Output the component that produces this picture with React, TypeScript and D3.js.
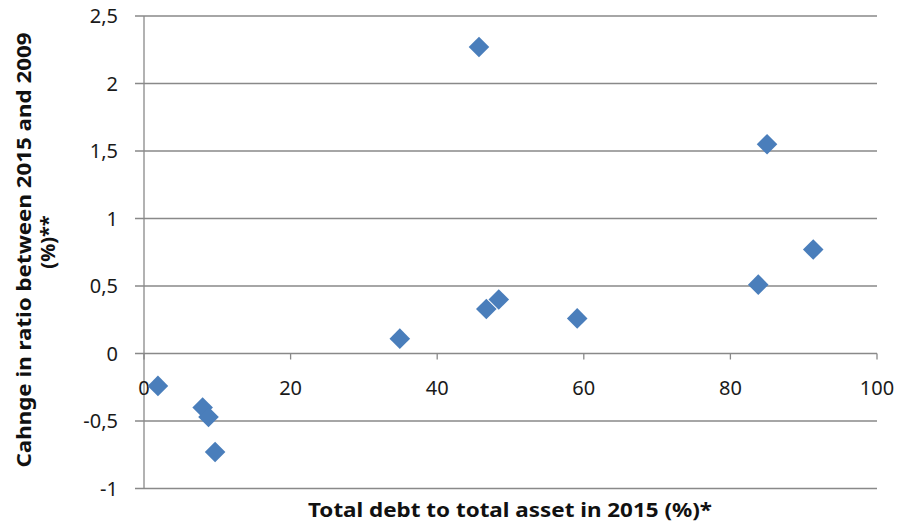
import React from "react";
import * as d3 from "d3";

const debtRatio2015 = [45.7, 85.0, 91.3, 83.8, 48.4, 46.7, 59.1, 34.9, 1.9, 8.0, 8.8, 9.7];
const ratioChange = [2.27, 1.55, 0.77, 0.51, 0.40, 0.33, 0.26, 0.11, -0.24, -0.40, -0.47, -0.73];
const xTicks = [0, 20, 40, 60, 80, 100];
const yTicks = [-1, -0.5, 0, 0.5, 1, 1.5, 2, 2.5];
const xTitle = "Total debt to total asset in 2015 (%)*";
const yTitleLine1 = "Cahnge in ratio between 2015 and 2009";
const yTitleLine2 = "(%)**";

const W = 900;
const H = 529;
const left = 144;
const right = 877;
const top = 16;
const bottom = 488.5;

export default function App() {
  const x = d3.scaleLinear().domain([0, 100]).range([left, right]);
  const y = d3.scaleLinear().domain([-1, 2.5]).range([bottom, top]);
  const fmt = (v: number) => String(v).replace(".", ",");
  const grid = "#898989";
  const font = "'Noto Sans', sans-serif";
  const diamond = d3.symbol().type(d3.symbolDiamond2).size(270)();
  const points = debtRatio2015.map((d, i) => ({ x: d, y: ratioChange[i] }));

  return (
    <svg width={W} height={H} style={{ position: "absolute", left: 0, top: 0, background: "#fff" }}>
      {yTicks.map((t) => (
        <g key={"y" + t}>
          <line x1={left - 9} x2={right} y1={y(t)} y2={y(t)} stroke={grid} strokeWidth={1.3} />
          <text x={118} y={y(t)} dy="0.36em" textAnchor="end" fontFamily={font} fontSize={20} fill="#1a1a1a">
            {fmt(t)}
          </text>
        </g>
      ))}
      <line x1={left} x2={left} y1={top} y2={bottom} stroke={grid} strokeWidth={1.3} />
      {xTicks.map((t) => (
        <g key={"x" + t}>
          <line x1={x(t)} x2={x(t)} y1={y(0)} y2={y(0) + 6} stroke={grid} strokeWidth={1.3} />
          <text x={x(t)} y={395} textAnchor="middle" fontFamily={font} fontSize={20} fill="#1a1a1a">
            {t}
          </text>
        </g>
      ))}
      {points.map((p, i) => (
        <path key={i} d={diamond || ""} transform={`translate(${x(p.x)},${y(p.y)})`} fill="#4a7ebb" />
      ))}
      <text x={510} y={517} textAnchor="middle" fontFamily={font} fontSize={20} fontWeight="bold" fill="#111"
        textLength={404} lengthAdjust="spacingAndGlyphs">
        {xTitle}
      </text>
      <text transform="translate(31,250) rotate(-90)" textAnchor="middle" fontFamily={font} fontSize={20}
        fontWeight="bold" fill="#111" textLength={435} lengthAdjust="spacingAndGlyphs">
        {yTitleLine1}
      </text>
      <text transform="translate(55,242) rotate(-90)" textAnchor="middle" fontFamily={font} fontSize={20}
        fontWeight="bold" fill="#111">
        {yTitleLine2}
      </text>
    </svg>
  );
}
